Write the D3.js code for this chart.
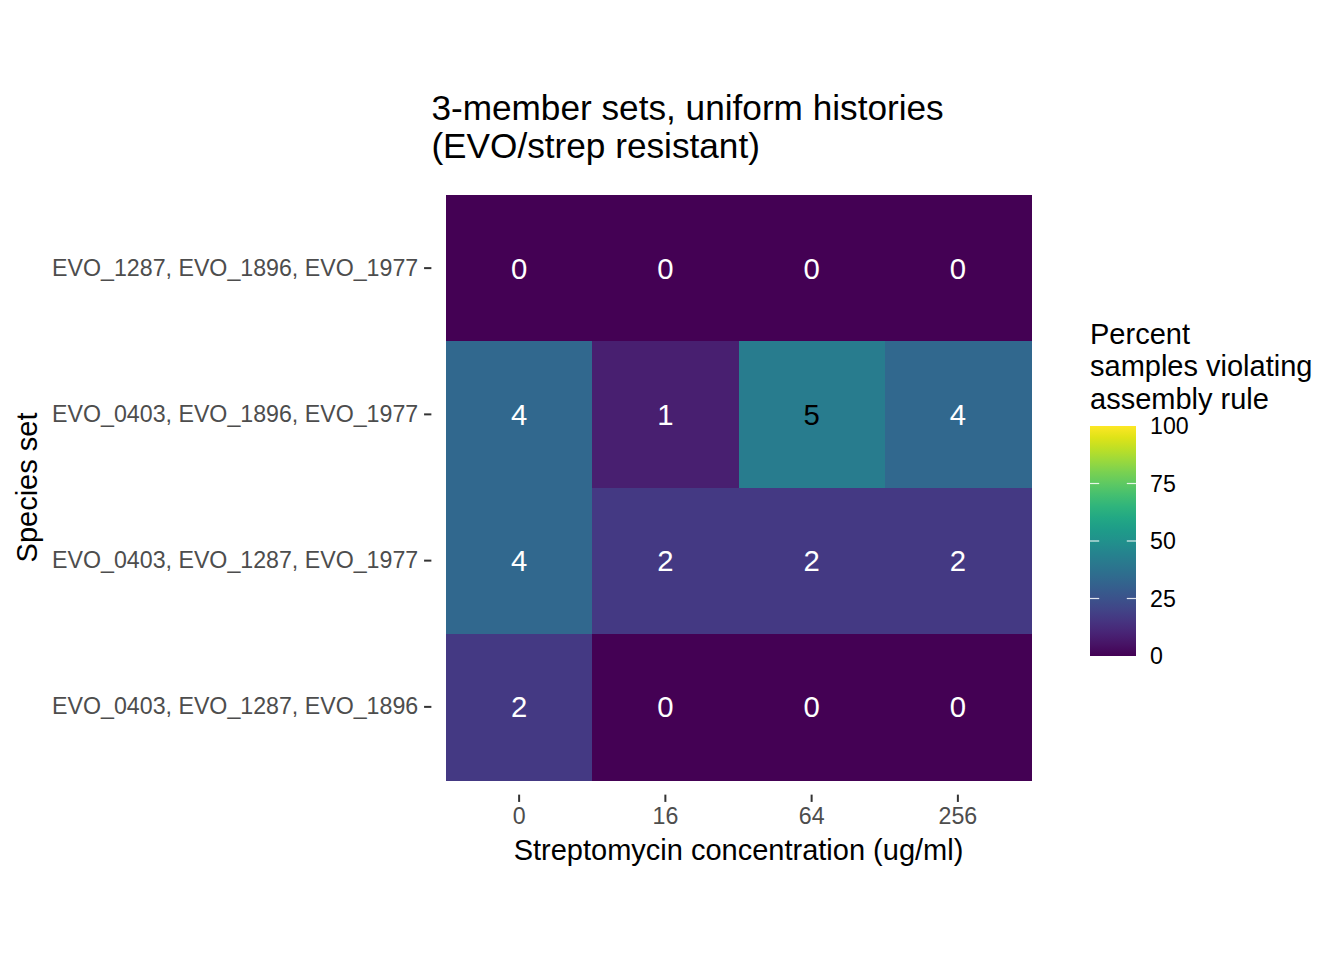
<!DOCTYPE html>
<html>
<head>
<meta charset="utf-8">
<script src="https://cdn.jsdelivr.net/npm/d3@7"></script>
<style>
  body { margin: 0; background: #fff; }
  svg text { font-family: "Liberation Sans", Arial, Helvetica, sans-serif; }
</style>
</head>
<body>
<svg id="chart" width="1344" height="960"></svg>
<script>
// concentrations (x) and species sets (y, top to bottom)
var concentrations = ["0", "16", "64", "256"];
var speciesSets = [
  "EVO_1287, EVO_1896, EVO_1977",
  "EVO_0403, EVO_1896, EVO_1977",
  "EVO_0403, EVO_1287, EVO_1977",
  "EVO_0403, EVO_1287, EVO_1896"
];
// labels printed in the cells (number of violating samples)
var counts = [
  [0, 0, 0, 0],
  [4, 1, 5, 4],
  [4, 2, 2, 2],
  [2, 0, 0, 0]
];
// fill values, percent samples violating
var percents = [
  [0, 0, 0, 0],
  [33.3, 8.3, 41.7, 33.3],
  [33.3, 16.7, 16.7, 16.7],
  [16.7, 0, 0, 0]
];
var legendTicks = [0, 25, 50, 75, 100];

var svg = d3.select("#chart");

// tiles sit inside the panel with a 0.1-tile gap (ggplot discrete expansion)
var x = d3.scaleBand().domain(concentrations).range([446, 1031]);
var y = d3.scaleBand().domain(speciesSets).range([195, 780]);
var gap = x.bandwidth() * 0.1;
var panel = { left: 446 - gap, right: 1031 + gap, top: 195 - gap, bottom: 780 + gap };

var color = d3.scaleSequential(d3.interpolateViridis).domain([0, 100]);

var cells = [];
speciesSets.forEach(function (s, i) {
  concentrations.forEach(function (c, j) {
    cells.push({ set: s, conc: c, n: counts[i][j], pct: percents[i][j] });
  });
});

svg.append("g")
  .attr("shape-rendering", "crispEdges")
  .selectAll("rect")
  .data(cells).enter()
  .append("rect")
  .attr("x", function (d) { return x(d.conc); })
  .attr("y", function (d) { return y(d.set); })
  .attr("width", x.bandwidth() + 1)
  .attr("height", y.bandwidth() + 1)
  .attr("fill", function (d) { return color(d.pct); });

svg.append("g").selectAll("text")
  .data(cells).enter()
  .append("text")
  .attr("x", function (d) { return x(d.conc) + x.bandwidth() / 2; })
  .attr("y", function (d) { return y(d.set) + y.bandwidth() / 2; })
  .attr("dy", "0.36em")
  .attr("text-anchor", "middle")
  .attr("font-size", 29.3)
  .attr("fill", function (d) { return d.pct > 40 ? "black" : "white"; })
  .text(function (d) { return d.n; });

// axes
var yAxis = svg.append("g")
  .attr("transform", "translate(" + panel.left + ",0)")
  .call(d3.axisLeft(y).tickSize(7.3).tickPadding(5.9));
var xAxis = svg.append("g")
  .attr("transform", "translate(0," + panel.bottom + ")")
  .call(d3.axisBottom(x).tickSize(7.3).tickPadding(5.9));

[xAxis, yAxis].forEach(function (ax) {
  ax.select(".domain").remove();
  ax.selectAll(".tick line").attr("stroke", "#333333").attr("stroke-width", 2);
  ax.selectAll(".tick text")
    .attr("fill", "#4D4D4D")
    .attr("font-size", 23.2)
    .style("font-family", "'Liberation Sans', Arial, sans-serif");
});

// axis titles
svg.append("text")
  .attr("x", (panel.left + panel.right) / 2)
  .attr("y", 860)
  .attr("text-anchor", "middle")
  .attr("font-size", 29)
  .text("Streptomycin concentration (ug/ml)");

svg.append("text")
  .attr("transform", "translate(37," + (panel.top + panel.bottom) / 2 + ") rotate(-90)")
  .attr("text-anchor", "middle")
  .attr("font-size", 29)
  .text("Species set");

// title
var title = svg.append("text")
  .attr("x", panel.left)
  .attr("font-size", 35.2);
title.append("tspan").attr("x", panel.left).attr("y", 120).text("3-member sets, uniform histories");
title.append("tspan").attr("x", panel.left).attr("y", 158).text("(EVO/strep resistant)");

// colourbar legend
var barX = 1090, barW = 46;
var ly = d3.scaleLinear().domain([0, 100]).range([656, 426]);

var grad = svg.append("defs").append("linearGradient")
  .attr("id", "viridis")
  .attr("x1", 0).attr("y1", 1).attr("x2", 0).attr("y2", 0);
d3.range(0, 1.001, 0.05).forEach(function (t) {
  grad.append("stop")
    .attr("offset", t)
    .attr("stop-color", d3.interpolateViridis(t));
});

svg.append("rect")
  .attr("x", barX)
  .attr("y", ly(100))
  .attr("width", barW)
  .attr("height", ly(0) - ly(100))
  .attr("fill", "url(#viridis)");

var inner = legendTicks.filter(function (v) { return v > 0 && v < 100; });
svg.append("g").selectAll("line.l")
  .data(inner).enter()
  .append("line")
  .attr("x1", barX).attr("x2", barX + barW / 5)
  .attr("y1", function (d) { return ly(d); })
  .attr("y2", function (d) { return ly(d); })
  .attr("stroke", "white").attr("stroke-opacity", 0.85).attr("stroke-width", 1.2);
svg.append("g").selectAll("line.r")
  .data(inner).enter()
  .append("line")
  .attr("x1", barX + barW - barW / 5).attr("x2", barX + barW)
  .attr("y1", function (d) { return ly(d); })
  .attr("y2", function (d) { return ly(d); })
  .attr("stroke", "white").attr("stroke-opacity", 0.85).attr("stroke-width", 1.2);

svg.append("g").selectAll("text")
  .data(legendTicks).enter()
  .append("text")
  .attr("x", 1150)
  .attr("y", function (d) { return ly(d); })
  .attr("dy", "0.36em")
  .attr("font-size", 23.2)
  .text(function (d) { return d; });

var lt = svg.append("text").attr("font-size", 29);
["Percent", "samples violating", "assembly rule"].forEach(function (s, i) {
  lt.append("tspan").attr("x", barX).attr("y", 344 + i * 32.3).text(s);
});
</script>
</body>
</html>
